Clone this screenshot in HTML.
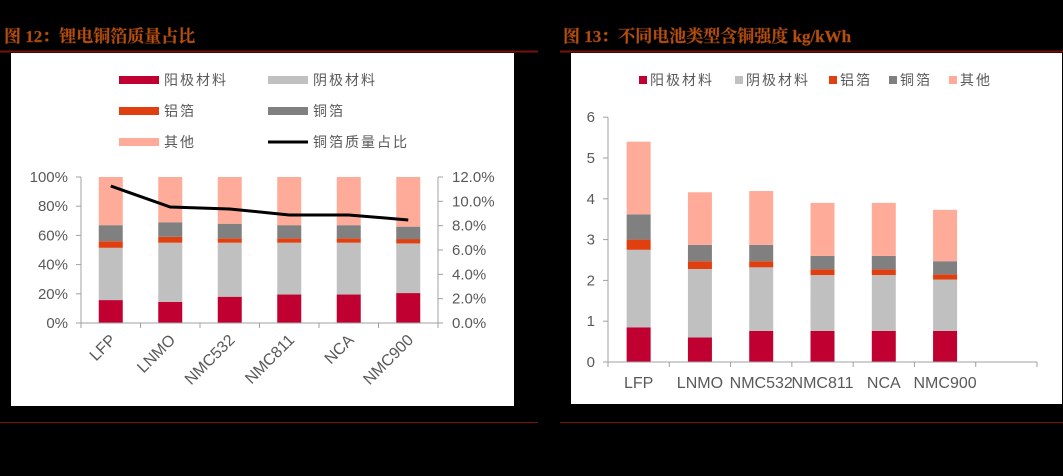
<!DOCTYPE html>
<html><head><meta charset="utf-8"><style>
html,body{margin:0;padding:0;background:#000;}
body{width:1063px;height:471px;position:relative;overflow:hidden;font-family:"Liberation Sans","Noto Sans CJK SC",sans-serif;}
svg text{font-family:"Liberation Sans","Noto Sans CJK SC",sans-serif;}
</style></head><body>
<svg id="s" width="1063" height="471" xmlns="http://www.w3.org/2000/svg">
<text x="4" y="42" font-size="17" font-weight="bold" fill="#b5500f" stroke="#8a3a08" stroke-width="0.4" style="font-family:'Liberation Serif','Noto Serif CJK SC',serif">图 12：锂电铜箔质量占比</text>
<text x="563" y="42" font-size="17" font-weight="bold" fill="#b5500f" stroke="#8a3a08" stroke-width="0.4" style="font-family:'Liberation Serif','Noto Serif CJK SC',serif">图 13：不同电池类型含铜强度 kg/kWh</text>
<line x1="0" y1="51.5" x2="538" y2="51.5" stroke="#7a1010" stroke-width="2"/>
<line x1="560" y1="51.5" x2="1063" y2="51.5" stroke="#7a1010" stroke-width="2"/>
<line x1="0" y1="422.5" x2="538" y2="422.5" stroke="#7a1010" stroke-width="1"/>
<line x1="560" y1="422.5" x2="1063" y2="422.5" stroke="#7a1010" stroke-width="1"/>
<rect x="11" y="53" width="503" height="353" fill="#fff"/>
<rect x="571" y="53" width="491" height="351" fill="#fff"/>
<g id="L"></g>
<g id="R"></g>
</svg>
<script>
const catsL=["LFP","LNMO","NMC532","NMC811","NCA","NMC900"];
const anodeL=[15.7,14.5,18,19.5,19.5,20.5];
const cathodeL=[35.8,40.5,37,35.5,35.5,34];
const alL=[4.5,4,3,3,3,3];
const cuL=[11,10,10,9,9,8.5];
const otherL=[33,31,32,33,33,34];
const lineL=[11.26,9.53,9.37,8.88,8.88,8.47];
const ticksL=["0%","20%","40%","60%","80%","100%"];
const ticksL2=["0.0%","2.0%","4.0%","6.0%","8.0%","10.0%","12.0%"];

const catsR=["LFP","LNMO","NMC532","NMC811","NCA","NMC900",""];
const anodeR=[0.85,0.6,0.76,0.76,0.76,0.76];
const cathodeR=[1.9,1.68,1.56,1.37,1.37,1.26];
const alR=[0.25,0.19,0.15,0.14,0.14,0.13];
const cuR=[0.62,0.4,0.4,0.33,0.33,0.32];
const otherR=[1.78,1.29,1.32,1.3,1.3,1.26];
const ticksR=["0","1","2","3","4","5","6"];

const NS="http://www.w3.org/2000/svg";
const COL=["#c00030","#c0c0c0","#e04010","#808080","#ffab99"];
const NAMES=["阳极材料","阴极材料","铝箔","铜箔","其他"];
function mk(p,t,a){const e=document.createElementNS(NS,t);for(const k in a)e.setAttribute(k,a[k]);p.appendChild(e);return e;}

// LEFT
(function(){
const g=document.getElementById('L');
const x0=81,x1=438,y0=323,y1=177,n=catsL.length,bw=(x1-x0)/n;
const y=v=>y0-(v/100)*(y0-y1), y2=v=>y0-(v/12)*(y0-y1), xc=i=>x0+bw*(i+0.5);
const series=[anodeL,cathodeL,alL,cuL,otherL];
for(let i=0;i<n;i++){let acc=0;for(let s=0;s<5;s++){const v=series[s][i];
const r=mk(g,'rect',{x:xc(i)-12,y:y(acc+v),width:24,height:y(acc)-y(acc+v),fill:COL[s]});

acc+=v;}}
let a=mk(g,'line',{x1:x0,y1:y0,x2:x1,y2:y0,stroke:'#a0a0a0'});

a=mk(g,'line',{x1:x0,y1:y0,x2:x0,y2:y1,stroke:'#a0a0a0'});

a=mk(g,'line',{x1:x1,y1:y0,x2:x1,y2:y1,stroke:'#a0a0a0'});

for(let i=0;i<=n;i++){mk(g,'line',{x1:x0+bw*i,y1:y0,x2:x0+bw*i,y2:y0+5,stroke:'#a0a0a0'});}
ticksL.forEach((t,i)=>{const v=i*20;mk(g,'line',{x1:x0-5,y1:y(v),x2:x0,y2:y(v),stroke:'#a0a0a0'});
const e=mk(g,'text',{x:x0-13,y:y(v)+5,'text-anchor':'end','font-size':15,fill:'#595959'});e.textContent=t;
});
ticksL2.forEach((t,i)=>{const v=i*2;mk(g,'line',{x1:x1,y1:y2(v),x2:x1+5,y2:y2(v),stroke:'#a0a0a0'});
const e=mk(g,'text',{x:x1+14,y:y2(v)+5,'font-size':15,fill:'#595959'});e.textContent=t;
});
catsL.forEach((c,i)=>{const tx=xc(i)+6,ty=y0+18;const e=mk(g,'text',{x:tx,y:ty,'text-anchor':'end','font-size':16,fill:'#595959',transform:`rotate(-45 ${tx} ${ty})`});e.textContent=c;
});
const pts=lineL.map((v,i)=>xc(i)+','+y2(v)).join(' ');
const pl=mk(g,'polyline',{points:pts,fill:'none',stroke:'#000','stroke-width':3});

const leg=[[0,119,80],[1,268,80],[2,119,111],[3,268,111],[4,119,142]];
leg.forEach(([s,lx,ly])=>{const r=mk(g,'rect',{x:lx,y:ly-4,width:40,height:8,fill:COL[s]});

const e=mk(g,'text',{x:lx+45,y:ly+5,'font-size':14,fill:'#595959','letter-spacing':'2'});e.textContent=NAMES[s];
});
mk(g,'line',{x1:268,y1:142,x2:308,y2:142,stroke:'#000','stroke-width':3});
const e=mk(g,'text',{x:313,y:147,'font-size':14,fill:'#595959','letter-spacing':'2'});e.textContent='铜箔质量占比';

})();

// RIGHT
(function(){
const g=document.getElementById('R');
const x0=608,x1=1037,y0=362,n=catsR.length,bw=(x1-x0)/n,k=40.8;
const y=v=>y0-v*k, xc=i=>x0+bw*(i+0.5);
const series=[anodeR,cathodeR,alR,cuR,otherR];
for(let i=0;i<anodeR.length;i++){let acc=0;for(let s=0;s<5;s++){const v=series[s][i];
const r=mk(g,'rect',{x:xc(i)-12,y:y(acc+v),width:24,height:y(acc)-y(acc+v),fill:COL[s]});

acc+=v;}}
let a=mk(g,'line',{x1:x0,y1:y0,x2:x1,y2:y0,stroke:'#a0a0a0'});

a=mk(g,'line',{x1:x0,y1:y0,x2:x0,y2:y(6),stroke:'#a0a0a0'});

for(let i=0;i<=n;i++){mk(g,'line',{x1:x0+bw*i,y1:y0,x2:x0+bw*i,y2:y0+5,stroke:'#a0a0a0'});}
ticksR.forEach((t,i)=>{mk(g,'line',{x1:x0-5,y1:y(i),x2:x0,y2:y(i),stroke:'#a0a0a0'});
const e=mk(g,'text',{x:x0-13,y:y(i)+5,'text-anchor':'end','font-size':15,fill:'#595959'});e.textContent=t;
});
catsR.forEach((c,i)=>{if(!c)return;const e=mk(g,'text',{x:xc(i),y:y0+26,'text-anchor':'middle','font-size':16,fill:'#595959'});e.textContent=c;
});
const lx=[643,739,833,893,953];
lx.forEach((x,s)=>{const r=mk(g,'rect',{x:x-4,y:76,width:8,height:8,fill:COL[s]});

const e=mk(g,'text',{x:x+7,y:85,'font-size':14,fill:'#595959','letter-spacing':'2'});e.textContent=NAMES[s];
});
})();
</script>
</body></html>
